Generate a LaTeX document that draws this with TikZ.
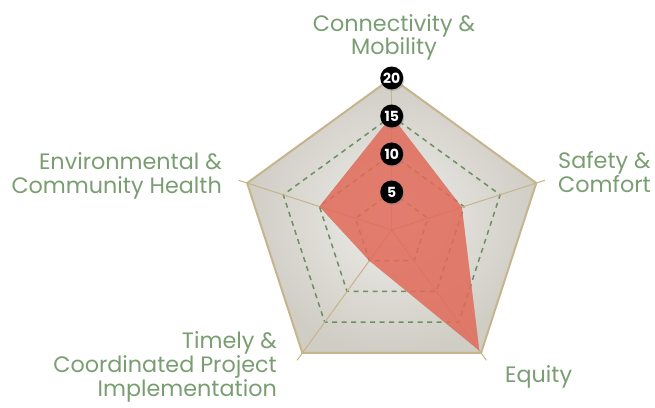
\documentclass[tikz,border=0pt]{standalone}
\usepackage{fontspec}
\setmainfont{Poppins}
\usetikzlibrary{shadows}
\definecolor{lbl}{RGB}{122,158,114}
\definecolor{tanline}{RGB}{198,180,140}
\definecolor{gridgreen}{RGB}{108,144,100}
\definecolor{datafill}{RGB}{236,112,95}
\definecolor{bginner}{RGB}{238,237,233}
\definecolor{bgouter}{RGB}{208,205,197}
\tikzset{
  gridline/.style={draw=gridgreen, line width=1.5pt, dash pattern=on 5pt off 4.5pt},
  axisline/.style={draw=tanline, line width=1pt},
  outerline/.style={draw=tanline, line width=2pt, line join=miter},
  badge/.style={circle, fill=black, text=white, minimum size=23pt, inner sep=0pt,
    font=\fontsize{14}{14}\selectfont\bfseries,
    drop shadow={shadow xshift=1pt, shadow yshift=-1.5pt, opacity=0.35}},
  lab/.style={text=lbl, inner sep=0pt, font=\fontsize{22.3}{22.3}\selectfont}
}
\begin{document}
\begin{tikzpicture}[x=1pt,y=1pt]
\useasboundingbox (0,0) rectangle (655,407);
\coordinate (O) at (391.7,177);
% outer vertices (20)
\foreach \i/\a in {1/90,2/18,3/-54,4/-126,5/162}{
  \coordinate (V\i) at ([shift={(\a:152)}]O);
  \coordinate (E\i) at ([shift={(\a:161)}]O);
}
% background
\shade[inner color=bginner, outer color=bgouter] (V1) -- (V2) -- (V3) -- (V4) -- (V5) -- cycle;
% dashed grid
\foreach \k in {5,10,15}{
  \draw[gridline] ([shift={(90:\k*7.6)}]O) -- ([shift={(18:\k*7.6)}]O) -- ([shift={(-54:\k*7.6)}]O)
     -- ([shift={(-126:\k*7.6)}]O) -- ([shift={(162:\k*7.6)}]O) -- cycle;
}
% axes
\foreach \i in {1,...,5}{ \draw[axisline] (O) -- (E\i); }
% data
\coordinate (D1) at ([shift={(90:15*7.6)}]O);
\coordinate (D2) at ([shift={(18:9.7*7.6)}]O);
\coordinate (D3) at ([shift={(-54:19.6*7.6)}]O);
\coordinate (D4) at ([shift={(-126:5*7.6)}]O);
\coordinate (D5) at ([shift={(162:10*7.6)}]O);
\fill[black, opacity=0.22, shift={(3,-1.5)}] (D1) -- (D2) -- (D3) -- (D4) -- (D5) -- cycle;
\fill[datafill, opacity=0.82, line join=round] (D1) -- (D2) -- (D3) -- (D4) -- (D5) -- cycle;
% outer pentagon
\draw[outerline] (V1) -- (V2) -- (V3) -- (V4) -- (V5) -- cycle;
% badges
\node[badge] (b20) at ([shift={(90:152)}]O) {20};
\node[badge] (b15) at ([shift={(90:114)}]O) {15};
\node[badge] (b10) at ([shift={(90:76)}]O) {10};
\node[badge] (b5)  at ([shift={(90:38)}]O) {5};
% labels
\node[lab, anchor=base] (l1a) at (394,375) {Connectivity \&};
\node[lab, anchor=base] (l1b) at (394,352) {Mobility};
\node[lab, anchor=base west] (l2a) at (558,238) {Safety \&};
\node[lab, anchor=base west] (l2b) at (558,214) {Comfort};
\node[lab, anchor=base west] (l3) at (505,25) {Equity};
\node[lab, anchor=base east] (l4a) at (277,59) {Timely \&};
\node[lab, anchor=base east] (l4b) at (277,35) {Coordinated Project};
\node[lab, anchor=base east] (l4c) at (277,11) {Implementation};
\node[lab, anchor=base east] (l5a) at (222,237) {Environmental \&};
\node[lab, anchor=base east] (l5b) at (222,213) {Community Health};
\end{tikzpicture}
\end{document}
